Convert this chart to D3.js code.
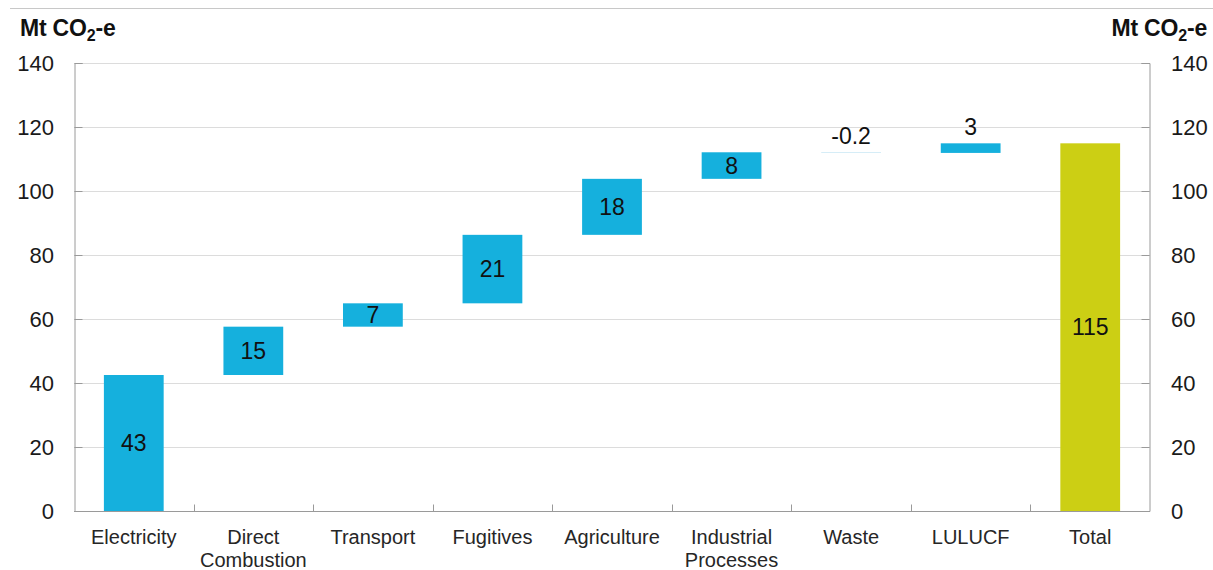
<!DOCTYPE html>
<html><head><meta charset="utf-8">
<script src="https://cdn.jsdelivr.net/npm/d3@7"></script>
<style>body{margin:0;background:#fff;} svg{display:block;font-family:Arial,"Liberation Sans",sans-serif;}</style>
</head><body>
<svg id="c" width="1213" height="570"></svg>
<script>
const categories = ["Electricity","Direct\nCombustion","Transport","Fugitives","Agriculture","Industrial\nProcesses","Waste","LULUCF","Total"];
const changes = [42.5, 15.1, 7.3, 21.4, 17.5, 8.3, -0.2, 3.0, null];
const totalValue = 114.9;
const valueLabels = ["43","15","7","21","18","8","-0.2","3","115"];
const yTicks = [0,20,40,60,80,100,120,140];

const svg = d3.select("#c");
const L = 74, R = 1150, T = 63, B = 511;
const x = d3.scaleBand().domain(categories).range([L, R]).paddingInner(0).paddingOuter(0);
const y = d3.scaleLinear().domain([0, 140]).range([B, T]);

// build waterfall
let run = 0;
const bars = categories.map((c, i) => {
  if (changes[i] === null) return {c, y0: 0, y1: totalValue, total: true, label: valueLabels[i]};
  const y0 = run; run += changes[i];
  return {c, y0, y1: run, total: false, label: valueLabels[i], v: changes[i]};
});

// top rule
svg.append("line").attr("x1", 10).attr("x2", 1213).attr("y1", 8.5).attr("y2", 8.5).attr("stroke", "#c8c8c8");

// gridlines
svg.append("g").selectAll("line").data(yTicks.filter(d => d > 0)).join("line")
  .attr("x1", L).attr("x2", R).attr("y1", d => Math.round(y(d)) + 0.5).attr("y2", d => Math.round(y(d)) + 0.5)
  .attr("stroke", "#dcdcdc").attr("stroke-width", 1);

// axes
const left = svg.append("g").attr("transform", `translate(${L + 0.5},0)`)
  .call(d3.axisRight(y).tickValues(yTicks).tickSize(8).tickFormat(""));
const right = svg.append("g").attr("transform", `translate(${R - 0.5},0)`)
  .call(d3.axisLeft(y).tickValues(yTicks).tickSize(8).tickFormat(""));
[left, right].forEach(g => { g.select(".domain").attr("stroke", "#9a9a9a"); g.selectAll("line").attr("stroke", "#9a9a9a"); });

// tick labels
svg.append("g").selectAll("text").data(yTicks).join("text")
  .attr("x", 54).attr("y", d => y(d)).attr("dy", "0.36em").attr("text-anchor", "end")
  .attr("font-size", 22).attr("fill", "#1a1a1a").text(d => d);
svg.append("g").selectAll("text").data(yTicks).join("text")
  .attr("x", 1171).attr("y", d => y(d)).attr("dy", "0.36em").attr("text-anchor", "start")
  .attr("font-size", 22).attr("fill", "#1a1a1a").text(d => d);

// bars
const bw = x.bandwidth() * 0.5;
svg.append("g").selectAll("rect").data(bars).join("rect")
  .attr("x", d => x(d.c) + (x.bandwidth() - bw) / 2)
  .attr("width", bw)
  .attr("y", d => y(Math.max(d.y0, d.y1)))
  .attr("height", d => Math.max(Math.abs(y(d.y0) - y(d.y1)), 0))
  .attr("fill", d => d.total ? "#cccf14" : (d.v < 0 ? "#bfe3f3" : "#15b0dd"));

// bottom axis
const bottom = svg.append("g").attr("transform", `translate(0,${B + 0.5})`);
bottom.append("line").attr("x1", L).attr("x2", R).attr("stroke", "#9a9a9a");
bottom.selectAll("line.t").data(categories.slice(1)).join("line").attr("class", "t")
  .attr("x1", d => Math.round(x(d)) + 0.5).attr("x2", d => Math.round(x(d)) + 0.5)
  .attr("y1", 0).attr("y2", -7).attr("stroke", "#9a9a9a");

// category labels
const cl = svg.append("g").selectAll("text").data(categories).join("text")
  .attr("x", d => x(d) + x.bandwidth() / 2).attr("y", 544)
  .attr("text-anchor", "middle").attr("font-size", 20).attr("fill", "#262626");
cl.each(function(d) {
  const lines = d.split("\n");
  d3.select(this).selectAll("tspan").data(lines).join("tspan")
    .attr("x", x(d) + x.bandwidth() / 2).attr("dy", (l, i) => i ? 23 : 0).text(l => l);
});

// value labels
svg.append("g").selectAll("text").data(bars).join("text")
  .attr("x", d => x(d.c) + x.bandwidth() / 2)
  .attr("y", d => {
    const h = Math.abs(y(d.y0) - y(d.y1));
    if (h < 12) return y(Math.max(d.y0, d.y1)) - 17;
    return (y(d.y0) + y(d.y1)) / 2;
  })
  .attr("dy", "0.36em").attr("text-anchor", "middle").attr("font-size", 23).attr("fill", "#111")
  .text(d => d.label);

// unit labels
function unit(xp, anchor) {
  const t = svg.append("text").attr("x", xp).attr("y", 36).attr("text-anchor", anchor)
    .attr("font-size", 23).attr("font-weight", "bold").attr("fill", "#111").attr("letter-spacing", "-0.2");
  t.append("tspan").text("Mt CO");
  t.append("tspan").attr("font-size", 16).attr("dy", 5).text("2");
  t.append("tspan").attr("dy", -5).text("-e");
}
unit(20, "start");
unit(1207, "end");
</script>
</body></html>
